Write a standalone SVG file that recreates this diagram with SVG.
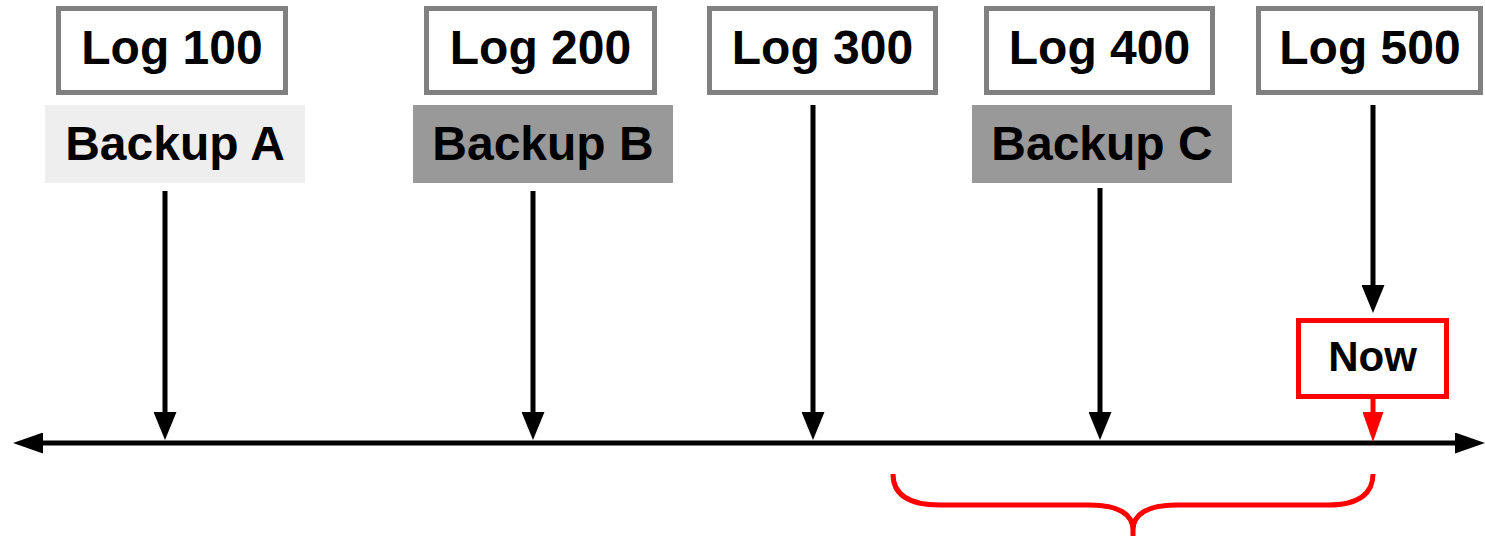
<svg xmlns="http://www.w3.org/2000/svg" width="1485" height="536" viewBox="0 0 1485 536">
<defs>
<style>
.log{fill:#fff;stroke:#808080;stroke-width:5}
.bk{stroke:none}
.t{font-family:"Liberation Sans",Arial,sans-serif;font-weight:bold;fill:#000;text-anchor:middle}
.big{font-size:48px}
.now{font-size:42px}
.ln{stroke:#000;stroke-width:5;fill:none}
.red{stroke:#ff0000;stroke-width:5;fill:none}
</style>
<marker id="ah" viewBox="0 0 28 23" refX="18" refY="11.5" markerWidth="28" markerHeight="23" markerUnits="userSpaceOnUse" orient="auto-start-reverse">
<path d="M0,0 L28,11.5 L0,23 Z" fill="#000"/>
</marker>
<marker id="ahr" viewBox="0 0 30 21" refX="20" refY="10.5" markerWidth="30" markerHeight="21" markerUnits="userSpaceOnUse" orient="auto">
<path d="M0,0 L30,10.5 L0,21 Z" fill="#ff0000"/>
</marker>
<marker id="ahl" viewBox="0 0 30 21" refX="20" refY="10.5" markerWidth="30" markerHeight="21" markerUnits="userSpaceOnUse" orient="auto-start-reverse">
<path d="M0,0 L30,10.5 L0,21 Z" fill="#000"/>
</marker>
</defs>
<rect width="1485" height="536" fill="#fff"/>

<g id="log100"><rect class="log" x="58.5" y="8.5" width="227" height="84"/><text class="t big" x="172" y="64">Log 100</text></g>
<g id="log200"><rect class="log" x="426.5" y="8.5" width="228" height="84"/><text class="t big" x="540.5" y="64">Log 200</text></g>
<g id="log300"><rect class="log" x="709.5" y="8.5" width="226" height="84"/><text class="t big" x="822.5" y="64">Log 300</text></g>
<g id="log400"><rect class="log" x="986.5" y="8.5" width="226" height="84"/><text class="t big" x="1099.5" y="64">Log 400</text></g>
<g id="log500"><rect class="log" x="1258.5" y="8.5" width="222" height="84"/><text class="t big" x="1370" y="64">Log 500</text></g>

<g id="backupA"><rect class="bk" x="45" y="105" width="260" height="78" fill="#eeeeee"/><text class="t big" x="175" y="160">Backup A</text></g>
<g id="backupB"><rect class="bk" x="413" y="105" width="260" height="78" fill="#999999"/><text class="t big" x="543" y="160">Backup B</text></g>
<g id="backupC"><rect class="bk" x="972" y="105" width="260" height="78" fill="#999999"/><text class="t big" x="1102" y="160">Backup C</text></g>

<g id="now"><rect x="1298.5" y="320.5" width="148" height="76" fill="#fff" stroke="#ff0000" stroke-width="5"/><text class="t now" x="1372.5" y="371">Now</text></g>

<g id="connectors">
<line class="ln" x1="23" y1="443" x2="1475" y2="443" marker-start="url(#ahl)" marker-end="url(#ahl)"/>
<line class="ln" x1="165" y1="191" x2="165" y2="430" marker-end="url(#ah)"/>
<line class="ln" x1="533" y1="191" x2="533" y2="430" marker-end="url(#ah)"/>
<line class="ln" x1="813" y1="105" x2="813" y2="430" marker-end="url(#ah)"/>
<line class="ln" x1="1100" y1="188" x2="1100" y2="430" marker-end="url(#ah)"/>
<line class="ln" x1="1373" y1="105" x2="1373" y2="303" marker-end="url(#ah)"/>
<line class="red" x1="1373" y1="398" x2="1373" y2="432" marker-end="url(#ahr)"/>
<path class="red" d="M893,474 C893,492 905,505 940,505 L1090,505 C1118,505 1133,514 1133,530 L1133,536 M1133,530 C1133,514 1148,505 1176,505 L1328,505 C1361,505 1373,492 1373,474"/>
</g>
</svg>
